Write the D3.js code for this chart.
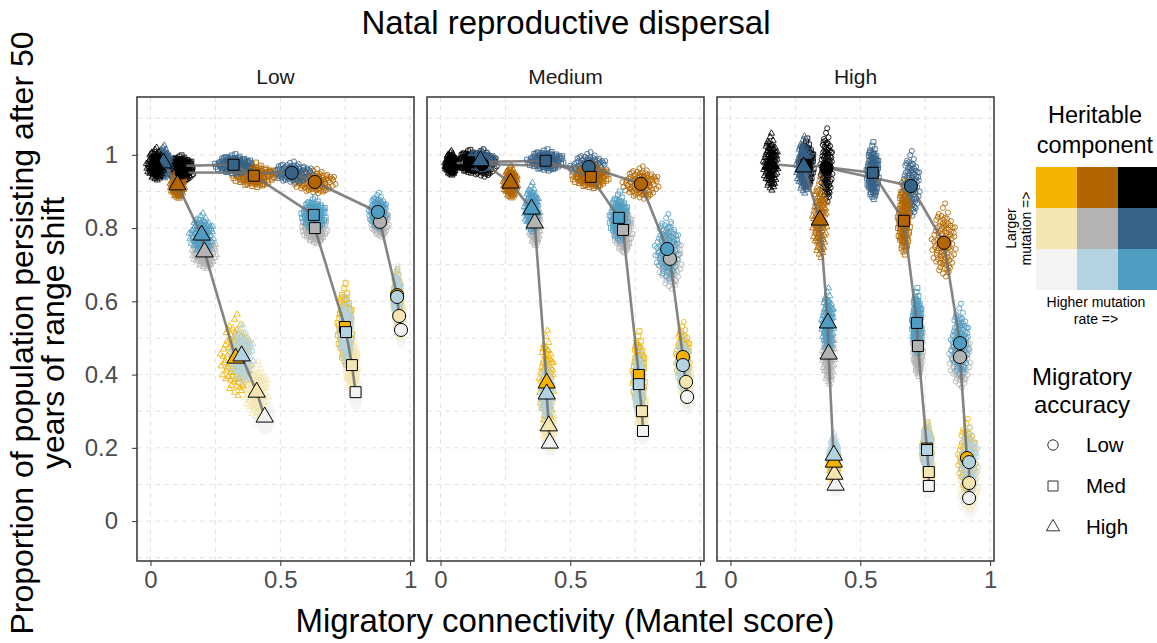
<!DOCTYPE html>
<html>
<head>
<meta charset="utf-8">
<script src="https://cdn.jsdelivr.net/npm/d3@7"></script>
<style>
  html, body { margin: 0; padding: 0; background: #fff; overflow: hidden; }
  text { font-family: "Liberation Sans", Arial, Helvetica, sans-serif; }
</style>
</head>
<body>
<script>
// ---- data ---------------------------------------------------------------
// Facets: natal reproductive dispersal level
const dispersalLevels = ["Low", "Medium", "High"];
// Migratory accuracy levels and their shapes
const accuracyLevels = ["Low", "Med", "High"];
// Heritable component combos, key = rate index + size index
const heritableKeys = ["00", "01", "02", "10", "11", "12", "20", "21", "22"];
const heritableColors = ["#f3f3f3", "#f3e6b3", "#f3b300", "#b4d3e1", "#b3b3b3",
                         "#b36600", "#509dc2", "#376387", "#000000"];
// Order in which the mean line runs through the combos
const lineOrder = ["22", "21", "12", "20", "11", "02", "10", "01", "00"];

// Mean [connectivity, persistence] per combo (heritableKeys order)
const meansLow_AccLow  = [[0.965,0.522],[0.958,0.560],[0.950,0.617],[0.950,0.612],[0.884,0.817],[0.633,0.926],[0.876,0.844],[0.544,0.951],[0.120,0.952]];
const meansLow_AccMed  = [[0.790,0.352],[0.776,0.426],[0.749,0.530],[0.753,0.516],[0.633,0.800],[0.398,0.943],[0.629,0.836],[0.320,0.973],[0.115,0.970]];
const meansLow_AccHigh = [[0.440,0.284],[0.409,0.352],[0.328,0.445],[0.351,0.451],[0.208,0.735],[0.104,0.918],[0.197,0.781],[0.050,0.978],[0.020,0.972]];
const meansMed_AccLow  = [[0.950,0.339],[0.946,0.380],[0.934,0.448],[0.934,0.426],[0.884,0.716],[0.772,0.921],[0.873,0.743],[0.571,0.967],[0.160,0.975]];
const meansMed_AccMed  = [[0.780,0.246],[0.776,0.300],[0.764,0.399],[0.764,0.374],[0.703,0.795],[0.579,0.940],[0.687,0.828],[0.405,0.984],[0.110,0.980]];
const meansMed_AccHigh = [[0.421,0.213],[0.417,0.260],[0.409,0.377],[0.409,0.347],[0.363,0.814],[0.270,0.923],[0.351,0.852],[0.154,0.984],[0.040,0.975]];
const meansHigh_AccLow  = [[0.919,0.063],[0.919,0.104],[0.911,0.172],[0.919,0.161],[0.884,0.448],[0.822,0.760],[0.884,0.486],[0.695,0.915],[0.370,0.965]];
const meansHigh_AccMed  = [[0.764,0.096],[0.764,0.134],[0.757,0.198],[0.757,0.194],[0.722,0.478],[0.668,0.820],[0.718,0.541],[0.548,0.951],[0.293,0.973]];
const meansHigh_AccHigh = [[0.405,0.098],[0.400,0.128],[0.398,0.161],[0.398,0.180],[0.378,0.456],[0.344,0.822],[0.375,0.541],[0.282,0.967],[0.155,0.975]];

// Replicate spread (sd of connectivity, sd of persistence) per combo
const spreadLow_AccLow  = [[.007,.020],[.007,.030],[.007,.030],[.007,.035],[.015,.020],[.035,.015],[.015,.022],[.035,.013],[.020,.012]];
const spreadLow_AccMed  = [[.008,.020],[.010,.035],[.012,.050],[.010,.040],[.020,.020],[.035,.015],[.020,.020],[.030,.012],[.020,.012]];
const spreadLow_AccHigh = [[.015,.020],[.020,.035],[.025,.050],[.020,.035],[.020,.022],[.012,.018],[.020,.025],[.012,.020],[.015,.020]];
const spreadMed_AccLow  = [[.008,.020],[.010,.030],[.012,.040],[.010,.035],[.020,.040],[.030,.020],[.020,.040],[.030,.017],[.025,.017]];
const spreadMed_AccMed  = [[.006,.015],[.007,.030],[.010,.050],[.008,.040],[.015,.030],[.030,.015],[.015,.030],[.030,.013],[.020,.014]];
const spreadMed_AccHigh = [[.008,.015],[.010,.030],[.012,.060],[.010,.035],[.010,.030],[.012,.020],[.012,.030],[.025,.012],[.010,.015]];
const spreadHigh_AccLow  = [[.015,.025],[.015,.035],[.015,.045],[.015,.040],[.018,.040],[.020,.045],[.015,.045],[.015,.040],[.010,.045]];
const spreadHigh_AccMed  = [[.006,.012],[.007,.020],[.008,.030],[.008,.030],[.008,.040],[.010,.045],[.008,.040],[.010,.035],[.012,.030]];
const spreadHigh_AccHigh = [[.006,.012],[.007,.020],[.008,.025],[.008,.025],[.010,.040],[.012,.050],[.010,.040],[.012,.035],[.012,.035]];

// Standardised replicate offsets (in sd units) shared by every replicate cloud
const replicateOffsets = [
  [-0.42,0.87],[1.13,-0.25],[-1.37,-0.61],[0.21,1.52],[0.68,0.14],[-0.05,-1.18],[1.71,0.92],[-0.88,0.33],
  [0.34,-0.47],[-1.92,0.08],[0.97,-1.43],[-0.26,-0.12],[0.52,0.61],[-0.71,1.26],[1.45,-0.83],[-1.11,-1.02],
  [0.09,0.29],[2.03,0.37],[-0.57,-0.36],[0.76,1.84],[-1.58,0.71],[0.28,-0.91],[-0.19,2.11],[1.22,0.48],
  [-0.93,-1.67],[0.61,-0.06],[-2.24,-0.44],[0.43,1.07],[-0.34,0.54],[1.58,-1.21],[-1.26,0.17],[0.15,-1.54],
  [0.87,0.79],[-0.66,-0.79],[1.04,0.03],[-0.12,0.98],[-1.71,-0.27],[0.38,-2.05],[2.27,-0.38],[-0.47,1.63],
  [0.71,-0.58],[-1.04,0.58],[0.02,-0.71],[1.36,1.31],[-0.81,-0.09],[0.56,0.21],[-1.45,1.38],[0.93,-1.78],
  [-0.29,-1.31],[1.88,0.61],[-2.01,-0.92],[0.19,0.69],[-0.61,0.12],[1.17,-0.44],[-0.09,1.41],[0.49,-1.12],
  [-1.21,-0.48],[0.82,1.19],[-0.38,-0.58],[1.51,0.27],
  [0.31,0.42],[-0.74,-1.21],[1.27,1.04],[-1.63,-0.14],[0.05,-0.32],[0.64,-1.62],[-0.22,1.19],[-1.33,0.92],
  [1.62,-0.07],[-0.51,-0.95],[0.24,2.39],[-0.98,1.74],[1.09,-1.07],[-1.84,0.49],[0.44,-0.22],[-0.17,-1.87],
  [0.92,0.36],[-0.44,0.23],[1.97,-0.71],[-1.07,-0.33],[0.13,1.08],[-0.63,0.71],[0.79,-0.89],[-1.49,-1.14],
  [0.58,1.47],[-0.02,-0.49],[1.41,0.68],[-2.37,0.21],[0.36,-1.33],[-0.86,1.02],[0.67,0.04],[-0.31,-0.77],
  [1.19,-1.52],[-1.18,1.56],[0.11,-1.04],[2.12,0.94],[-0.69,-1.49],[0.47,0.88],[-1.39,-0.72],[0.83,-0.31]
];

const xTicks = [0, 0.5, 1];
const xTickLabels = ["0", "0.5", "1"];
const yTicks = [0, 0.2, 0.4, 0.6, 0.8, 1];
const yTickLabels = ["0", "0.2", "0.4", "0.6", "0.8", "1"];
const xGrid = [0, 0.25, 0.5, 0.75, 1];
const yGrid = [-0.1, 0, 0.1, 0.2, 0.3, 0.4, 0.5, 0.6, 0.7, 0.8, 0.9, 1, 1.1];

const meansByPanel = [
  [meansLow_AccLow, meansLow_AccMed, meansLow_AccHigh],
  [meansMed_AccLow, meansMed_AccMed, meansMed_AccHigh],
  [meansHigh_AccLow, meansHigh_AccMed, meansHigh_AccHigh]
];
const spreadByPanel = [
  [spreadLow_AccLow, spreadLow_AccMed, spreadLow_AccHigh],
  [spreadMed_AccLow, spreadMed_AccMed, spreadMed_AccHigh],
  [spreadHigh_AccLow, spreadHigh_AccMed, spreadHigh_AccHigh]
];

// ---- layout -------------------------------------------------------------
const W = 1157, H = 643;
const panelLeft = [137, 427, 717];
const panelW = 277;
const panelTop = 97, panelBottom = 561;

const svg = d3.select("body").append("svg")
  .attr("width", W).attr("height", H);

const colorOf = d3.scaleOrdinal().domain(heritableKeys).range(heritableColors);
const shapeOf = d3.scaleOrdinal().domain(accuracyLevels)
  .range([d3.symbolCircle, d3.symbolSquare, d3.symbolTriangle]);
const smallSize = { Low: 20, Med: 25, High: 17 };
const bigSize = { Low: 135, Med: 120, High: 130 };

const y = d3.scaleLinear().domain([-0.109, 1.158]).range([panelBottom, panelTop]);

// Title
svg.append("text").attr("x", 566).attr("y", 34).attr("text-anchor", "middle")
  .attr("font-size", 33).attr("fill", "#000").text("Natal reproductive dispersal");

// Y axis title (two lines)
const yTitle = svg.append("text")
  .attr("transform", `translate(0,333) rotate(-90)`)
  .attr("text-anchor", "middle").attr("font-size", 32).attr("fill", "#000");
yTitle.append("tspan").attr("x", 0).attr("y", 33).text("Proportion of population persisting after 50");
yTitle.append("tspan").attr("x", 0).attr("y", 64).text("years of range shift");

// X axis title
svg.append("text").attr("x", 565).attr("y", 632).attr("text-anchor", "middle")
  .attr("font-size", 33).attr("fill", "#000").text("Migratory connectivity (Mantel score)");

dispersalLevels.forEach((lvl, p) => {
  const x = d3.scaleLinear().domain([-0.052, 1.015])
    .range([panelLeft[p], panelLeft[p] + panelW]);
  const g = svg.append("g");

  // strip label
  g.append("text").attr("x", panelLeft[p] + panelW / 2).attr("y", 84)
    .attr("text-anchor", "middle").attr("font-size", 21).attr("fill", "#1a1a1a").text(lvl);

  // grid
  g.selectAll(".gx").data(xGrid).join("line")
    .attr("x1", d => x(d)).attr("x2", d => x(d))
    .attr("y1", panelTop).attr("y2", panelBottom)
    .attr("stroke", "#e3e3e3").attr("stroke-width", 1).attr("stroke-dasharray", "5,4");
  g.selectAll(".gy").data(yGrid).join("line")
    .attr("x1", panelLeft[p]).attr("x2", panelLeft[p] + panelW)
    .attr("y1", d => y(d)).attr("y2", d => y(d))
    .attr("stroke", "#e3e3e3").attr("stroke-width", 1).attr("stroke-dasharray", "5,4");

  const clip = "clip" + p;
  svg.append("clipPath").attr("id", clip).append("rect")
    .attr("x", panelLeft[p]).attr("y", panelTop).attr("width", panelW).attr("height", panelBottom - panelTop);
  const plot = g.append("g").attr("clip-path", `url(#${clip})`);

  // replicate clouds
  const cloudPts = [];
  accuracyLevels.forEach((acc, a) => {
    heritableKeys.forEach((k, i) => {
      const m = meansByPanel[p][a][i], s = spreadByPanel[p][a][i];
      replicateOffsets.forEach(o => {
        cloudPts.push({ acc, key: k, cx: m[0] + o[0] * s[0], cy: m[1] + o[1] * s[1] });
      });
    });
  });
  plot.selectAll("path.rep").data(cloudPts).join("path")
    .attr("class", "rep")
    .attr("transform", d => `translate(${x(d.cx)},${y(d.cy)})`)
    .attr("d", d => d3.symbol(shapeOf(d.acc), smallSize[d.acc])())
    .attr("fill", "none")
    .attr("stroke", d => colorOf(d.key))
    .attr("stroke-width", 1)
    .attr("stroke-opacity", 0.85);

  // connecting lines through the means
  const line = d3.line().x(d => x(d[0])).y(d => y(d[1]));
  accuracyLevels.forEach((acc, a) => {
    const pts = lineOrder.map(k => meansByPanel[p][a][heritableKeys.indexOf(k)]);
    plot.append("path").attr("d", line(pts))
      .attr("fill", "none").attr("stroke", "#6e6e6e").attr("stroke-width", 2.6)
      .attr("stroke-opacity", 0.85).attr("stroke-linejoin", "round");
  });

  // means
  const meanPts = [];
  accuracyLevels.forEach((acc, a) => {
    heritableKeys.forEach((k, i) => {
      const m = meansByPanel[p][a][i];
      meanPts.push({ acc, key: k, cx: m[0], cy: m[1] });
    });
  });
  plot.selectAll("path.mean").data(meanPts).join("path")
    .attr("class", "mean")
    .attr("transform", d => `translate(${x(d.cx)},${y(d.cy)})`)
    .attr("d", d => d3.symbol(shapeOf(d.acc), bigSize[d.acc])())
    .attr("fill", d => colorOf(d.key))
    .attr("stroke", "#000").attr("stroke-width", 1);

  // panel border
  g.append("rect").attr("x", panelLeft[p]).attr("y", panelTop)
    .attr("width", panelW).attr("height", panelBottom - panelTop)
    .attr("fill", "none").attr("stroke", "#333").attr("stroke-width", 1.5);

  // x axis
  const xa = g.append("g").attr("transform", `translate(0,${panelBottom})`)
    .call(d3.axisBottom(x).tickValues(xTicks).tickFormat((d, i) => xTickLabels[i]).tickSize(5).tickPadding(5));
  xa.select(".domain").remove();
  xa.selectAll(".tick line").attr("stroke", "#333");
  xa.selectAll(".tick text").attr("font-size", 24).attr("fill", "#4d4d4d")
    .attr("font-family", "Liberation Sans, Arial, sans-serif");

  if (p === 0) {
    const ya = g.append("g").attr("transform", `translate(${panelLeft[0]},0)`)
      .call(d3.axisLeft(y).tickValues(yTicks).tickFormat((d, i) => yTickLabels[i]).tickSize(5).tickPadding(14));
    ya.select(".domain").remove();
    ya.selectAll(".tick line").attr("stroke", "#333");
    ya.selectAll(".tick text").attr("font-size", 24).attr("fill", "#4d4d4d")
      .attr("font-family", "Liberation Sans, Arial, sans-serif");
  }
});

// ---- legend: heritable component ----------------------------------------
const lg = svg.append("g");
lg.append("text").attr("x", 1095).attr("y", 123).attr("text-anchor", "middle")
  .attr("font-size", 23.5).text("Heritable");
lg.append("text").attr("x", 1095).attr("y", 153).attr("text-anchor", "middle")
  .attr("font-size", 23.5).text("component");

const cell = 41;
const gx = d3.scaleBand().domain([0, 1, 2]).range([1036, 1036 + 3 * cell]);
const gy = d3.scaleBand().domain([2, 1, 0]).range([167, 167 + 3 * cell]);
lg.selectAll("rect.cell").data(heritableKeys).join("rect")
  .attr("class", "cell")
  .attr("x", k => gx(+k[0])).attr("y", k => gy(+k[1]))
  .attr("width", cell).attr("height", cell)
  .attr("fill", k => colorOf(k));

const vt = lg.append("text").attr("transform", `translate(0,${167 + 1.5 * cell}) rotate(-90)`)
  .attr("text-anchor", "middle").attr("font-size", 14);
vt.append("tspan").attr("x", 0).attr("y", 1016).text("Larger");
vt.append("tspan").attr("x", 0).attr("y", 1031).text("mutation =>");

lg.append("text").attr("x", 1096).attr("y", 307).attr("text-anchor", "middle")
  .attr("font-size", 14).text("Higher mutation");
lg.append("text").attr("x", 1096).attr("y", 324).attr("text-anchor", "middle")
  .attr("font-size", 14).text("rate =>");

// ---- legend: migratory accuracy -----------------------------------------
lg.append("text").attr("x", 1082).attr("y", 385).attr("text-anchor", "middle")
  .attr("font-size", 24).text("Migratory");
lg.append("text").attr("x", 1082).attr("y", 413).attr("text-anchor", "middle")
  .attr("font-size", 24).text("accuracy");

const accY = d3.scalePoint().domain(accuracyLevels).range([445, 527]);
const accSize = { Low: 85, Med: 100, High: 75 };
lg.selectAll("path.acc").data(accuracyLevels).join("path")
  .attr("class", "acc")
  .attr("transform", d => `translate(1053,${accY(d)})`)
  .attr("d", d => d3.symbol(shapeOf(d), accSize[d])())
  .attr("fill", "none").attr("stroke", "#333").attr("stroke-width", 1);
lg.selectAll("text.acc").data(accuracyLevels).join("text")
  .attr("class", "acc")
  .attr("x", 1086).attr("y", d => accY(d) + 7)
  .attr("font-size", 20.5).text(d => d);
</script>
</body>
</html>
